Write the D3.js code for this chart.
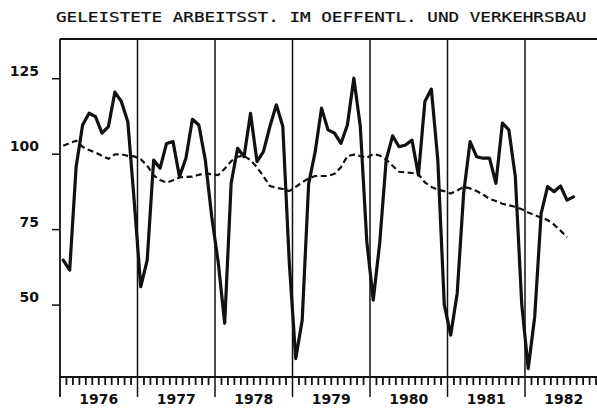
<!DOCTYPE html>
<html><head><meta charset="utf-8">
<script src="https://cdn.jsdelivr.net/npm/d3@7"></script>
<style>html,body{margin:0;padding:0;background:#fff;}svg{display:block;}</style>
</head><body>
<svg id="c" width="597" height="408"></svg>
<script>
const title = "GELEISTETE ARBEITSST. IM OEFFENTL. UND VERKEHRSBAU";
const years = [1976, 1977, 1978, 1979, 1980, 1981, 1982];
const yTicks = [50, 75, 100, 125];
// monthly values, Jan 1976 .. Aug 1982
const actual = [
  64.7, 61.4, 95.7, 109.5, 113.4, 112.3, 106.8, 109.0, 120.4, 117.3, 110.6, 84,
  55.9, 64.7, 97.9, 95.2, 103.4, 104.0, 92.4, 98.5, 111.4, 109.5, 97.9, 79,
  64, 43.8, 90.2, 101.8, 99.0, 113.4, 97.4, 100.7, 109.0, 116.2, 109.0, 64,
  32.1, 44.8, 90, 100.5, 115.1, 107.9, 106.8, 103.4, 109.5, 125.0, 109.0, 71,
  51.5, 70.3, 97.9, 105.9, 102.3, 102.9, 104.5, 92.9, 117.3, 121.4, 97.9, 50,
  39.9, 53.7, 86.9, 104.0, 99.0, 98.5, 98.5, 90.2, 110.1, 107.9, 92.4, 50,
  28.8, 45.9, 80.2, 89.1, 87.4, 89.3, 84.6, 85.7
];
// trend, Jan 1976 .. Jul 1982
const trend = [
  102.6, 103.5, 104.3, 102.3, 101.2, 100.4, 99.3, 98.3, 99.8, 99.8, 99.3, 99.1,
  98.2, 96, 92.8, 91.3, 90.4, 91.2, 92.1, 92.3, 92.4, 93, 93.5, 93.2,
  92.9, 95, 97.5, 99, 99.3, 97.8, 95.5, 92.5, 89.3, 88.7, 88.3, 87.6,
  89.0, 90.5, 91.8, 92.6, 92.6, 92.6, 93.3, 95.5, 99.2, 99.7, 99.2, 98.6,
  99.9, 99.4, 98.1, 96, 94.0, 93.8, 93.6, 93.2, 90.5, 89, 88, 87.6,
  86.8, 87.8, 89, 88.5, 87.6, 86.5, 85.0, 84.3, 83.4, 82.9, 82.4, 81.6,
  80.5, 79.7, 78.8, 78.0, 76.5, 74.5, 72.3
];

const ink = "#111";
const svg = d3.select("#c");
const x = d3.scaleLinear().domain([0, 84]).range([60, 602.5]);
const y = d3.scaleLinear().domain([26, 138]).range([377, 39]);

// title (plotter-like wide lettering)
svg.append("text")
  .attr("transform", "translate(56,22) scale(1.26,1)")
  .attr("x", 0).attr("y", 0)
  .style("font-family", "'DejaVu Sans Mono', monospace")
  .style("font-size", "14px")
  .attr("fill", ink)
  .attr("stroke", ink).attr("stroke-width", 0.25)
  .text(title);

// y axis
const yAxis = d3.axisLeft(y).tickValues(yTicks).tickSize(8).tickPadding(13);
const gy = svg.append("g").attr("transform", "translate(60,0)").call(yAxis);
gy.select(".domain").remove();
gy.selectAll(".tick line").attr("stroke", ink).attr("stroke-width", 1.5);
gy.selectAll(".tick text")
  .attr("dy", "-3px")
  .attr("fill", ink)
  .style("font-family", "'DejaVu Sans', sans-serif")
  .style("font-weight", "bold")
  .style("font-size", "14px");

// frame
const frame = svg.append("g").attr("stroke", ink).attr("stroke-width", 1.8).attr("fill", "none");
frame.append("line").attr("x1", x(0)).attr("x2", x(0)).attr("y1", 39).attr("y2", 397);
frame.append("line").attr("x1", x(0)).attr("x2", 597).attr("y1", y(138)).attr("y2", y(138));
frame.append("line").attr("x1", x(0)).attr("x2", 597).attr("y1", y(26)).attr("y2", y(26));

// year dividers
years.slice(1).forEach((yr, i) => {
  const xv = x((i + 1) * 12);
  frame.append("line").attr("x1", xv).attr("x2", xv).attr("y1", 39).attr("y2", 397).attr("stroke-width", 1.5);
});

// monthly ticks
const months = d3.range(1, 84).filter(m => m % 12 !== 0);
svg.append("g").selectAll("line").data(months).join("line")
  .attr("x1", d => x(d)).attr("x2", d => x(d))
  .attr("y1", 377).attr("y2", 385)
  .attr("stroke", ink).attr("stroke-width", 1.8);

// year labels
svg.append("g").selectAll("text").data(years).join("text")
  .attr("x", (d, i) => x(i * 12 + 6))
  .attr("y", 404)
  .attr("text-anchor", "middle")
  .attr("fill", ink)
  .style("font-family", "'DejaVu Sans', sans-serif")
  .style("font-weight", "bold")
  .style("font-size", "14px")
  .text(d => d);

const line = d3.line().x((d, i) => x(i + 0.5)).y(d => y(d));

svg.append("path").datum(trend)
  .attr("d", line)
  .attr("fill", "none").attr("stroke", ink)
  .attr("stroke-width", 2.2).attr("stroke-dasharray", "6,3.5");

svg.append("path").datum(actual)
  .attr("d", line)
  .attr("fill", "none").attr("stroke", ink)
  .attr("stroke-width", 3.2).attr("stroke-linejoin", "round").attr("stroke-linecap", "round");
</script>
</body></html>
